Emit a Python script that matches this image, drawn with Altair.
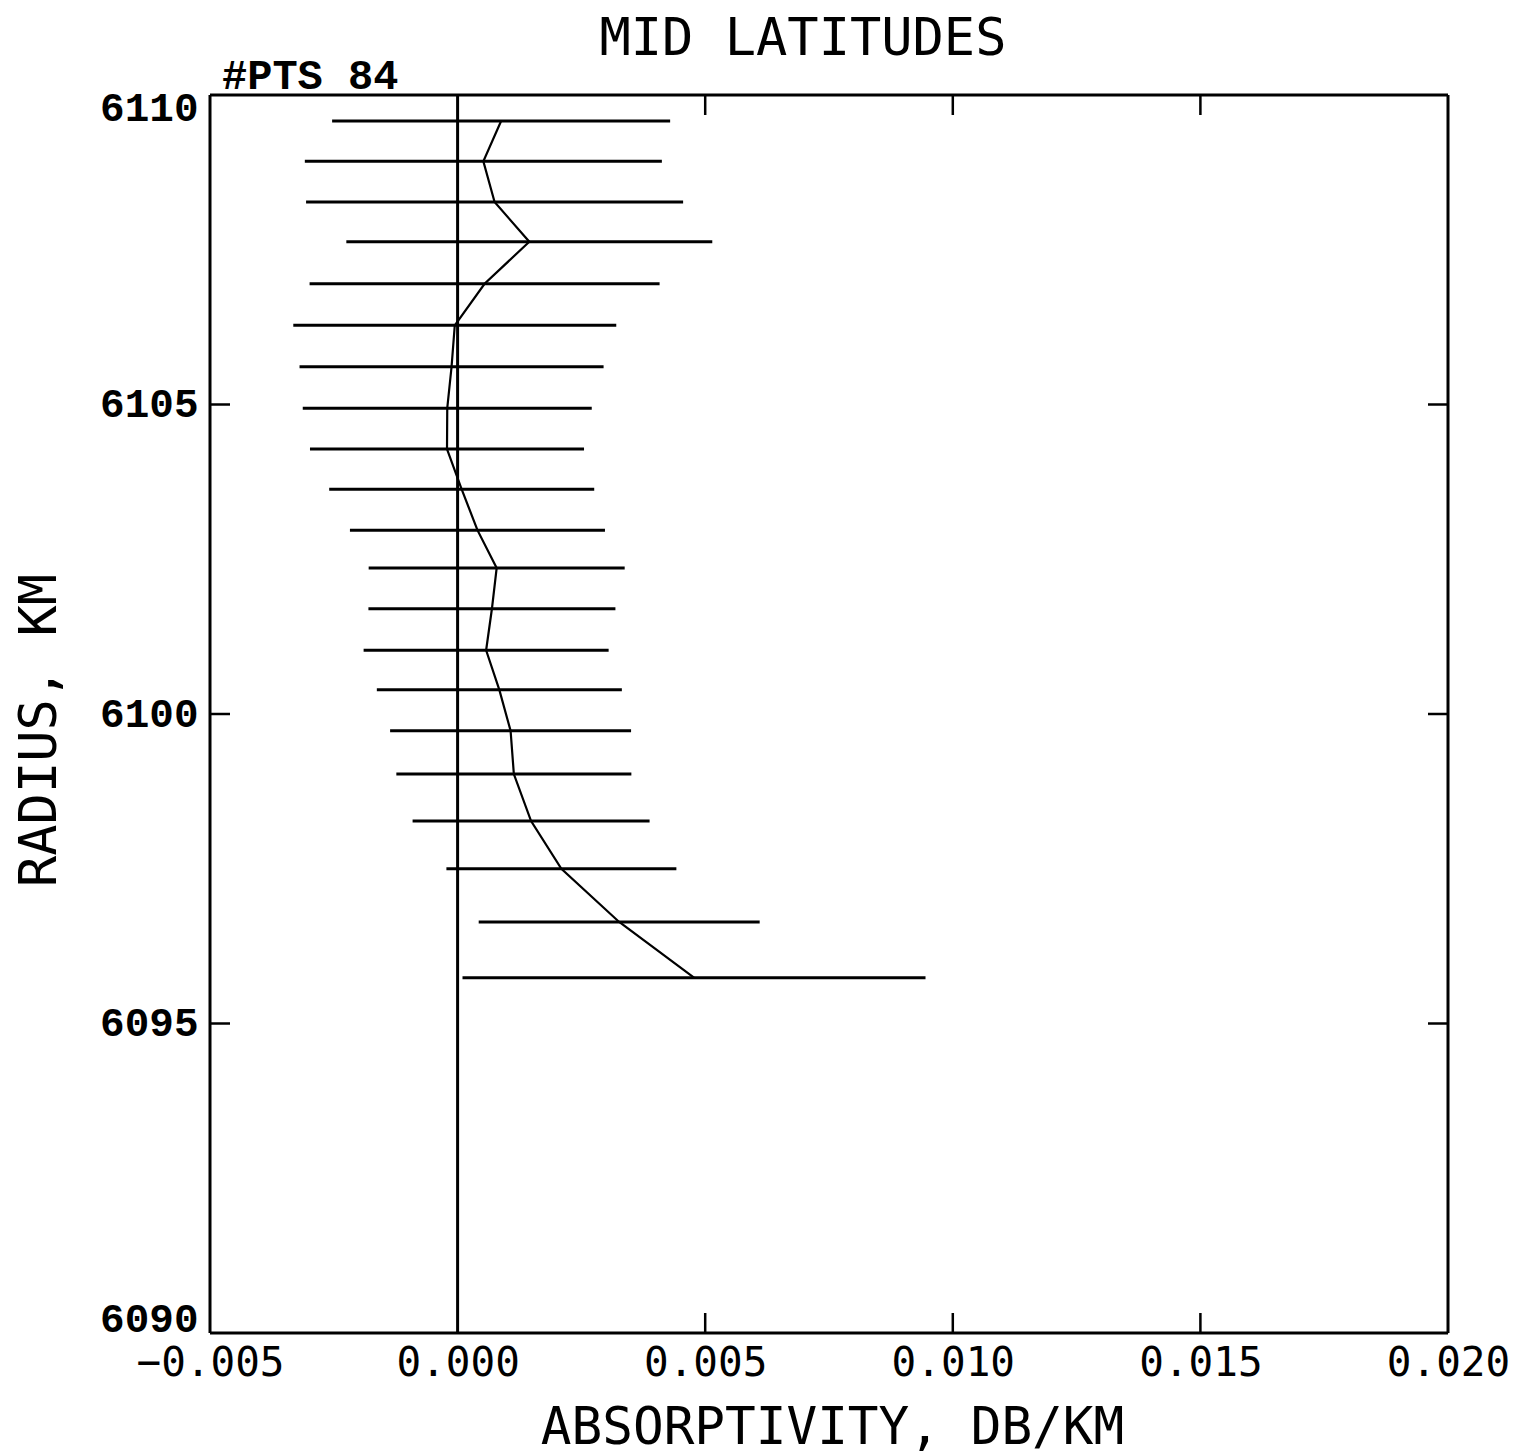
import altair as alt
import pandas as pd

# Radius (km) of each measurement
radius = [6109.58, 6108.93, 6108.27, 6107.63, 6106.95, 6106.28, 6105.61, 6104.94,
          6104.28, 6103.63, 6102.97, 6102.36, 6101.70, 6101.03, 6100.39, 6099.73,
          6099.03, 6098.27, 6097.50, 6096.64, 6095.74]
# Absorptivity (dB/km), center values
absorptivity = [0.000879, 0.000520, 0.000747, 0.001448, 0.000545, -0.000057, -0.000122,
                -0.000209, -0.000214, 0.000083, 0.000401, 0.000789, 0.000693, 0.000576,
                0.000843, 0.001070, 0.001136, 0.001484, 0.002096, 0.003263, 0.004774]
# Half-width of error bars (dB/km)
error = [0.003413, 0.003605, 0.003807, 0.003695, 0.003534, 0.003261, 0.003070, 0.002918,
         0.002767, 0.002676, 0.002575, 0.002585, 0.002494, 0.002474, 0.002474, 0.002433,
         0.002373, 0.002393, 0.002322, 0.002837, 0.004675]

x_ticks = [-0.005, 0.0, 0.005, 0.010, 0.015, 0.020]
y_ticks = [6090, 6095, 6100, 6105, 6110]
inner_x_ticks = [0.005, 0.010, 0.015]
inner_y_ticks = [6095, 6100, 6105]

W = 1238
H = 1238
TICK = 20

df = pd.DataFrame({"radius": radius, "a": absorptivity, "err": error})
df["lo"] = df["a"] - df["err"]
df["hi"] = df["a"] + df["err"]

xt = pd.DataFrame({"v": inner_x_ticks})
yt = pd.DataFrame({"v": inner_y_ticks})

label_font = "DejaVu Sans Mono"
title_font = "DejaVu Sans Mono"
serif_mono = "Liberation Mono"

xscale = alt.Scale(domain=[-0.005, 0.020], nice=False, zero=False)
yscale = alt.Scale(domain=[6090, 6110], nice=False, zero=False)

x_axis = alt.Axis(values=x_ticks, format=".3f", ticks=False, domain=False, grid=False,
                  labelFont=label_font, labelFontSize=41, labelColor="black",
                  labelPadding=10, labelFlush=False, labelOverlap=False,
                  title="ABSORPTIVITY, DB/KM", titleFont=title_font, titleFontSize=51,
                  titleFontWeight="normal", titleColor="black",
                  titleBaseline="alphabetic", titleY=110, titleX=622, titleAlign="center")
y_axis = alt.Axis(values=y_ticks, format="d", ticks=False, domain=False, grid=False,
                  labelFont=serif_mono, labelFontSize=41, labelFontWeight="bold",
                  labelColor="black", labelPadding=12, labelFlush=True,
                  labelFlushOffset=7, labelOverlap=False,
                  title="RADIUS, KM", titleFont=title_font, titleFontSize=52,
                  titleFontWeight="normal", titleColor="black", titleAngle=270,
                  titleBaseline="alphabetic", titleX=-155, titleY=635, titleAlign="center")

base = alt.Chart(df)

bars = base.mark_rule(color="black", strokeWidth=3).encode(
    x=alt.X("lo:Q", scale=xscale, axis=x_axis),
    x2="hi:Q",
    y=alt.Y("radius:Q", scale=yscale, axis=y_axis),
)

line = base.mark_line(color="black", strokeWidth=2.2).encode(
    x=alt.X("a:Q", scale=xscale),
    y=alt.Y("radius:Q", scale=yscale),
    order="radius:Q",
)

zero = alt.Chart(pd.DataFrame({"z": [0.0]})).mark_rule(color="black", strokeWidth=3).encode(
    x=alt.X("z:Q", scale=xscale),
)

frame_l = alt.Chart().mark_rule(color="black", strokeWidth=3).encode(
    x=alt.value(0), y=alt.value(0), y2=alt.value(H))
frame_r = alt.Chart().mark_rule(color="black", strokeWidth=3).encode(
    x=alt.value(W), y=alt.value(0), y2=alt.value(H))
frame_t = alt.Chart().mark_rule(color="black", strokeWidth=3).encode(
    y=alt.value(0), x=alt.value(0), x2=alt.value(W))
frame_b = alt.Chart().mark_rule(color="black", strokeWidth=3).encode(
    y=alt.value(H), x=alt.value(0), x2=alt.value(W))

tick_bottom = alt.Chart(xt).mark_rule(color="black", strokeWidth=2.5).encode(
    x=alt.X("v:Q", scale=xscale), y=alt.value(H), y2=alt.value(H - TICK))
tick_top = alt.Chart(xt).mark_rule(color="black", strokeWidth=2.5).encode(
    x=alt.X("v:Q", scale=xscale), y=alt.value(0), y2=alt.value(TICK))
tick_left = alt.Chart(yt).mark_rule(color="black", strokeWidth=2.5).encode(
    y=alt.Y("v:Q", scale=yscale), x=alt.value(0), x2=alt.value(TICK))
tick_right = alt.Chart(yt).mark_rule(color="black", strokeWidth=2.5).encode(
    y=alt.Y("v:Q", scale=yscale), x=alt.value(W), x2=alt.value(W - TICK))

title_txt = alt.Chart(pd.DataFrame({"t": ["MID LATITUDES"]})).mark_text(
    font=title_font, fontSize=52, align="center", baseline="alphabetic", color="black"
).encode(text="t:N", x=alt.value(593), y=alt.value(-40))

pts_txt = alt.Chart(pd.DataFrame({"t": ["#PTS 84"]})).mark_text(
    font=serif_mono, fontSize=42, fontWeight="bold", align="left",
    baseline="alphabetic", color="black"
).encode(text="t:N", x=alt.value(12), y=alt.value(-6))

chart = alt.layer(
    bars, line, zero, frame_l, frame_r, frame_t, frame_b,
    tick_bottom, tick_top, tick_left, tick_right, title_txt, pts_txt
).properties(
    width=W, height=H,
    autosize=alt.AutoSizeParams(type="none"),
    padding={"left": 202, "top": 87, "right": 66, "bottom": 123},
).configure_view(
    strokeWidth=0
).configure(background="white")

chart.save("out.html", embed_options={"renderer": "svg", "actions": False})
